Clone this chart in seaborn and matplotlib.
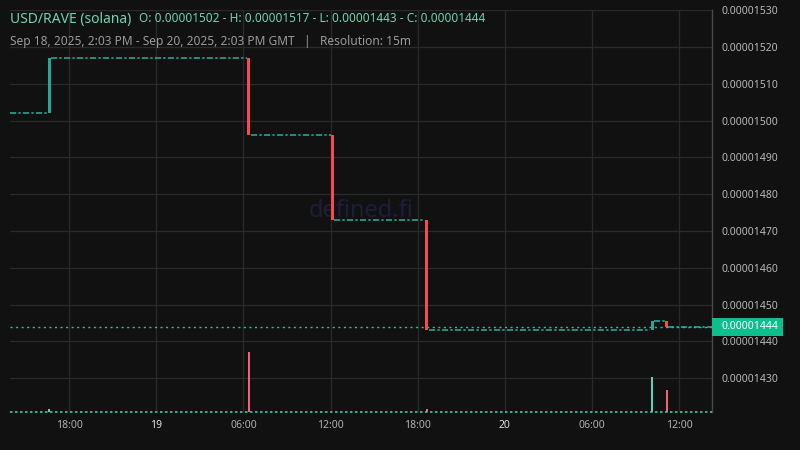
import matplotlib
matplotlib.use("Agg")
import matplotlib.pyplot as plt
import matplotlib.dates as mdates
import matplotlib.patches as mpatches
import matplotlib.transforms as mtransforms
import seaborn as sns
import pandas as pd

# ---------------- data ----------------
title = "USD/RAVE (solana)"
ohlc_text = "O: 0.00001502 - H: 0.00001517 - L: 0.00001443 - C: 0.00001444"
subtitle = "Sep 18, 2025, 2:03 PM - Sep 20, 2025, 2:03 PM GMT   |   Resolution: 15m"
watermark = "defined.fi"

# 15m candles that moved (all other candles are flat, open == close)
candle_times = ["2025-09-18 16:30", "2025-09-19 06:15", "2025-09-19 12:00",
                "2025-09-19 18:30", "2025-09-20 10:00", "2025-09-20 11:00"]
candle_open = [0.00001502, 0.00001517, 0.00001496, 0.00001473, 0.00001443, 0.000014455]
candle_close = [0.00001517, 0.00001496, 0.00001473, 0.00001443, 0.000014455, 0.00001444]

volume_times = ["2025-09-18 16:30", "2025-09-19 06:15", "2025-09-19 18:30",
                "2025-09-20 10:00", "2025-09-20 11:00"]
volume_values = [55, 1000, 55, 590, 370]
volume_up = [True, False, False, True, False]

last_price = 0.00001444
price_ticks = [0.00001430, 0.00001440, 0.00001450, 0.00001460, 0.00001470,
               0.00001480, 0.00001490, 0.00001500, 0.00001510, 0.00001520, 0.00001530]
x_tick_times = ["2025-09-18 18:00", "2025-09-19 00:00", "2025-09-19 06:00", "2025-09-19 12:00",
                "2025-09-19 18:00", "2025-09-20 00:00", "2025-09-20 06:00", "2025-09-20 12:00"]
x_tick_labels = ["18:00", "19", "06:00", "12:00", "18:00", "20", "06:00", "12:00"]
x_tick_bold = [False, True, False, False, False, True, False, False]

# ---------------- style ----------------
BG = "#111111"
GRID = "#2a2a2a"
UP = "#22ab94"
DOWN = "#f74a4a"
FLAT = "#26b29c"
sns.set_theme(style="dark", rc={"axes.facecolor": BG, "figure.facecolor": BG})
plt.rcParams["font.family"] = ["Noto Sans", "DejaVu Sans"]

W, H = 800, 450
fig = plt.figure(figsize=(8, 4.5), dpi=100)
L, R, T, B = 10, 712, 10, 412
rect = [L / W, 1 - B / H, (R - L) / W, (B - T) / H]
ax = fig.add_axes(rect)
ax.set_facecolor(BG)

view_start = pd.Timestamp("2025-09-18 13:56")
view_end = pd.Timestamp("2025-09-20 14:15")
step = pd.Timedelta(minutes=15)

ct = pd.to_datetime(candle_times)
# flat segments between the moving candles
seg_rows = []
starts = [view_start] + [t + step for t in ct]
ends = list(ct) + [view_end]
levels = [candle_open[0]] + list(candle_close)
for i, (s, e, lv) in enumerate(zip(starts, ends, levels)):
    seg_rows.append({"seg": i, "time": s, "price": lv})
    seg_rows.append({"seg": i, "time": e, "price": lv})
seg_df = pd.DataFrame(seg_rows)
n_before = len(ax.lines)
sns.lineplot(data=seg_df, x="time", y="price", units="seg", estimator=None,
             color=FLAT, linewidth=1.1, ax=ax, legend=False)
for ln in ax.lines[n_before:]:
    ln.set_linestyle((0, (4, 1.5, 1.5, 1.5)))

# current price dotted line
ax.axhline(last_price, color="#1fc79a", linewidth=1.0, linestyle=(0, (1.5, 2.5)), zorder=3)

# candle bodies
body_w = step * 0.85
for t, o, c in zip(ct, candle_open, candle_close):
    col = UP if c >= o else DOWN
    ax.bar(mdates.date2num(t + step / 2), c - o, bottom=o,
           width=body_w / pd.Timedelta(days=1), color=col, edgecolor="none", zorder=4)

ax.set_xlim(view_start, view_end)
y_lo, y_hi = 0.000014208, 0.0000153006
ax.set_ylim(y_lo, y_hi)

xt = pd.to_datetime(x_tick_times)
ax.set_xticks(mdates.date2num(xt))
ax.set_xticklabels(x_tick_labels)
ax.tick_params(axis="x", length=0, pad=6, labelsize=7.5, labelcolor="#b0b0b0")
for lab, bold in zip(ax.get_xticklabels(), x_tick_bold):
    if bold:
        lab.set_fontweight("bold")
        lab.set_color("#e0e0e0")

ax.grid(True, color=GRID, linewidth=0.9)
for s in ["top", "left", "bottom"]:
    ax.spines[s].set_visible(False)
ax.spines["right"].set_color("#4a4a4a")
ax.spines["right"].set_linewidth(1.0)
ax.set_xlabel("")
ax.set_ylabel("")

# volume (separate transparent axes on top of the price axes)
vax = fig.add_axes(rect, sharex=ax)
vax.patch.set_alpha(0)
vt = pd.to_datetime(volume_times)
vol_w = step * 0.55
vax.bar(mdates.date2num(vt + step / 2), volume_values,
        width=vol_w / pd.Timedelta(days=1),
        color=["#5fd3b3" if u else "#f7607a" for u in volume_up], edgecolor="none")
vax.axhline(0, color="#3fc8a6", linewidth=1.2, linestyle=(0, (1.5, 1.5)), clip_on=False)
vax.set_ylim(0, max(volume_values) * (B - T) / 60)
vax.set_yticks([])
vax.tick_params(axis="x", length=0, labelbottom=False)
vax.grid(False)
for s in vax.spines.values():
    s.set_visible(False)

# price axis labels on the right
ax.yaxis.tick_right()
ax.set_yticks(price_ticks)
ax.set_yticklabels([f"{v:.8f}" for v in price_ticks])
ax.tick_params(axis="y", length=0, pad=7, labelsize=7.5, labelcolor="#b8b8b8",
               labelleft=False, labelright=True)
ax.tick_params(axis="x", labelbottom=True)

# last price label box
px_per_unit = (B - T) / (y_hi - y_lo)
box_h = 18 / px_per_unit
trans = mtransforms.blended_transform_factory(ax.transAxes, ax.transData)
vax.add_patch(mpatches.Rectangle((1.0, last_price - box_h / 2), 71 / (R - L), box_h,
                                 transform=trans, facecolor="#0cbf8c", edgecolor="none",
                                 clip_on=False, zorder=6))
vax.text(1.0 + 10 / (R - L), last_price, f"{last_price:.8f}", transform=trans,
         ha="left", va="center", fontsize=7.5, color="white", zorder=7, clip_on=False)

# watermark
ax.text(0.5, 0.5, watermark, transform=ax.transAxes, ha="center", va="center",
        fontsize=17, color="#1e1e3c", zorder=1)

# header
fig.text(10 / W, 1 - 19 / H, title, ha="left", va="center", fontsize=10, color="#6fd3b1")
fig.text(139 / W, 1 - 19 / H, ohlc_text, ha="left", va="center", fontsize=8.5, color="#6fd3b1")
fig.text(10 / W, 1 - 41 / H, subtitle, ha="left", va="center", fontsize=8.6, color="#9a9a9a")

fig.savefig("out.png", dpi=100, facecolor=BG)
